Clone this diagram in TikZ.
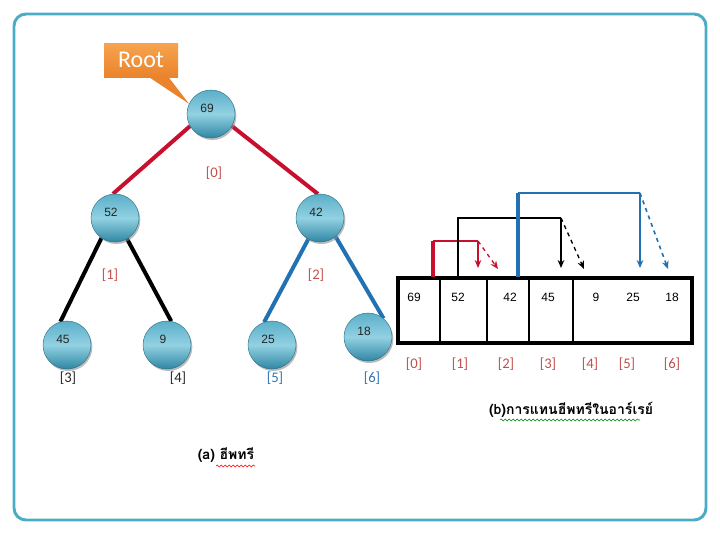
\documentclass[tikz,border=0pt]{standalone}
\usepackage{fontspec}
\setmainfont{Carlito}
\newfontfamily\thaifont[Script=Thai]{Loma}
\newfontfamily\valfont{Liberation Sans}
\usetikzlibrary{shadows,arrows.meta,decorations.pathmorphing}
\pgfdeclarelayer{edgelayer}
\pgfsetlayers{edgelayer,main}
\definecolor{frameblue}{HTML}{4BACC6}
\definecolor{edgered}{HTML}{C8102E}
\definecolor{edgeblue}{HTML}{2271B3}
\definecolor{idxred}{HTML}{C0504D}
\definecolor{idxblue}{HTML}{2E75B6}
\definecolor{ballTop}{HTML}{5BAFC9}
\definecolor{ballMid}{HTML}{92D1E2}
\definecolor{ballBot}{HTML}{2F86A3}
\definecolor{calloutTop}{HTML}{F7A44E}
\definecolor{calloutBot}{HTML}{EA832C}
\tikzset{
  heap/.style={circle, minimum size=36pt, inner sep=0pt, draw=ballBot!80!black, line width=0.3pt,
    top color=ballTop, bottom color=ballBot, middle color=ballMid,
    drop shadow={shadow xshift=1pt, shadow yshift=-1.5pt, fill=black!45, opacity=0.6}},
  num/.style={font=\valfont\small, text=black!85, xshift=-3pt, yshift=4pt},
  idx/.style={font=\fontsize{11}{12}\selectfont},
  treeedge/.style={line width=3pt},
  val/.style={font=\valfont\fontsize{9}{10}\selectfont},
  arrtip/.style={-{Stealth[length=6pt,width=5pt]}},
  caption/.style={font=\thaifont\bfseries\fontsize{10.5}{13}\selectfont},
  squiggle/.style={line width=0.4pt, decorate, decoration={snake, amplitude=0.8pt, segment length=3pt}},
}
\begin{document}
\begin{tikzpicture}[x=0.75pt,y=-0.75pt]
\useasboundingbox (0,0) rectangle (720,540);
% frame
\draw[frameblue, line width=2.2pt, rounded corners=9pt] (14,14) rectangle (706,520);

% tree nodes
\node[heap, label={[num]center:69}] (n69) at (211,114) {};
\node[heap, label={[num]center:52}] (n52) at (115,218) {};
\node[heap, label={[num]center:42}] (n42) at (320,218) {};
\node[heap, label={[num]center:45}] (n45) at (67,345) {};
\node[heap, label={[num]center:9}]  (n9)  at (167,345) {};
\node[heap, label={[num]center:25}] (n25) at (272,345) {};
\node[heap, label={[num]center:18}] (n18) at (368,337) {};

% edges (under the nodes)
\begin{pgfonlayer}{edgelayer}
\draw[treeedge, edgered] (n69.210) -- (n52.95);
\draw[treeedge, edgered] (n69.330) -- (n42.95);
\draw[treeedge, black] (n52.236) -- (n45.106);
\draw[treeedge, black] (n52.300) -- (n9.80);
\draw[treeedge, edgeblue] (n42.241) -- (n25.109);
\draw[treeedge, edgeblue] (n42.310) -- (n18.50);
\end{pgfonlayer}

% tree index labels
\node[idx, text=idxred] (t0) at (214,173) {[0]};
\node[idx, text=idxred] (t1) at (110,275) {[1]};
\node[idx, text=idxred] (t2) at (316,275) {[2]};
\node[idx, text=black!85] (t3) at (68,378) {[3]};
\node[idx, text=black!85] (t4) at (178,378) {[4]};
\node[idx, text=idxblue] (t5) at (275,378) {[5]};
\node[idx, text=idxblue] (t6) at (372,378) {[6]};

% Root callout
\node[top color=calloutTop, bottom color=calloutBot, minimum width=55.5pt, minimum height=25.5pt,
      inner sep=0pt, text=white, font=\fontsize{18}{20}\selectfont] (root) at (141,60) {Root};
\fill[calloutBot] (148,76.5) -- (n69.155) -- (168,76.5) -- cycle;

% array
\draw[line width=2.8pt] (398,278) rectangle (692,343);
\foreach \xx in {440,487,529,573} \draw[line width=1pt] (\xx,278) -- (\xx,343);
\node[val] (v0) at (414,297) {69};
\node[val] (v1) at (458,297) {52};
\node[val] (v2) at (510,297) {42};
\node[val] (v3) at (548,297) {45};
\node[val] (v4) at (596,297) {9};
\node[val] (v5) at (633,297) {25};
\node[val] (v6) at (672,297) {18};
\foreach \i/\xx in {0/414,1/460,2/506,3/548,4/590,5/627,6/672}
  \node[idx, text=idxred] (a\i) at (\xx,364) {[\i]};

% array arrows
\coordinate (r0) at (433,277);
\coordinate (r1) at (433,241);
\coordinate (r2) at (478,241);
\coordinate (r3) at (478,268);
\coordinate (r4) at (498,269);
\draw[edgered, line width=2.6pt] (r0) -- (r1);
\draw[edgered, line width=1pt] (r1) -- (r2);
\draw[edgered, line width=1pt, arrtip] (r2) -- (r3);
\draw[edgered, line width=1pt, dashed, arrtip] (r2) -- (r4);

\coordinate (k0) at (458,277);
\coordinate (k1) at (458,218);
\coordinate (k2) at (561,218);
\coordinate (k3) at (561,268);
\coordinate (k4) at (584,269);
\draw[black, line width=1pt] (k0) -- (k1) -- (k2);
\draw[black, line width=1pt, arrtip] (k2) -- (k3);
\draw[black, line width=1pt, dashed, arrtip] (k2) -- (k4);

\coordinate (b0) at (518,277);
\coordinate (b1) at (518,193);
\coordinate (b2) at (640,193);
\coordinate (b3) at (640,268);
\coordinate (b4) at (668,269);
\draw[edgeblue, line width=2.6pt] (b0) -- (b1);
\draw[edgeblue, line width=1.4pt] (b1) -- (b2);
\draw[edgeblue, line width=1.2pt, arrtip] (b2) -- (b3);
\draw[edgeblue, line width=1.2pt, dashed, arrtip] (b2) -- (b4);

% captions
\node[caption] (capb) at (571,410) {(b)การแทนฮีพทรีในอาร์เรย์};
\node[caption] (capa) at (226,455) {(a) ฮีพทรี};
\draw[squiggle, green!50!black] (500,420) -- (640,420);
\draw[squiggle, red] (216,466) -- (255,466);
\end{tikzpicture}
\end{document}
